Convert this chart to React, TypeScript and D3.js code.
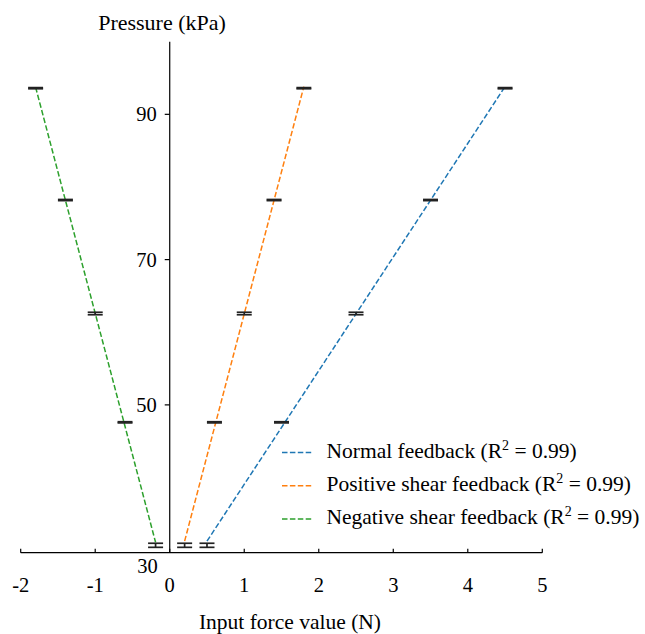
import React from "react";
import * as d3 from "d3";

const pressures = [30.67, 47.6, 62.58, 78.2, 93.6];
const pressureErr = [0.28, 0.08, 0.17, 0.08, 0.08];
const normalForce = [0.5, 1.5, 2.5, 3.5, 4.5];
const positiveForce = [0.2, 0.6, 1.0, 1.4, 1.8];
const negativeForce = [-0.19, -0.6, -1.0, -1.4, -1.8];
const seriesNames = ["Normal feedback", "Positive shear feedback", "Negative shear feedback"];
const seriesColors = ["#1f77b4", "#ff7f0e", "#2ca02c"];
const r2Values = ["0.99", "0.99", "0.99"];
const xTicks = [-2, -1, 0, 1, 2, 3, 4, 5];
const yTicks = [50, 70, 90];

const FONT = "Liberation Serif, Times New Roman, DejaVu Serif, serif";

function fit(xs: number[], ys: number[]) {
  const mx = d3.mean(xs)!;
  const my = d3.mean(ys)!;
  let num = 0, den = 0;
  xs.forEach((x, i) => { num += (x - mx) * (ys[i] - my); den += (x - mx) ** 2; });
  const b = num / den;
  const a = my - b * mx;
  return { a, b };
}

export default function App() {
  const W = 645, H = 634;
  const x = d3.scaleLinear().domain([-2, 5]).range([20.7, 542.3]);
  const y = d3.scaleLinear().domain([29.65, 100]).range([552.7, 41.7]);
  const series = [normalForce, positiveForce, negativeForce];
  const x0 = x(0);
  const yBase = y(29.65);
  const ts = { fontFamily: FONT, fill: "#000" };

  return (
    <svg width={W} height={H} style={{ position: "absolute", left: 0, top: 0, background: "#fff", fontFamily: FONT }}>
      {/* fit lines */}
      {series.map((xs, si) => {
        const { a, b } = fit(xs, pressures);
        const xmin = d3.min(xs)!, xmax = d3.max(xs)!;
        return (
          <line key={"fit" + si}
            x1={x(xmin)} y1={y(a + b * xmin)} x2={x(xmax)} y2={y(a + b * xmax)}
            stroke={seriesColors[si]} strokeWidth={1.5} strokeDasharray="5.5,2.4" />
        );
      })}
      {/* error bars */}
      {series.map((xs, si) => xs.map((xv, i) => {
        const cx = x(xv);
        const yt = y(pressures[i] + pressureErr[i]);
        const yb = y(pressures[i] - pressureErr[i]);
        return (
          <g key={"eb" + si + "-" + i} stroke="#222" strokeWidth={1.7}>
            <line x1={cx} x2={cx} y1={yt} y2={yb} />
            <line x1={cx - 7.5} x2={cx + 7.5} y1={yt} y2={yt} />
            <line x1={cx - 7.5} x2={cx + 7.5} y1={yb} y2={yb} />
          </g>
        );
      }))}
      {/* x axis */}
      <line x1={x(-2)} x2={x(5)} y1={yBase} y2={yBase} stroke="#000" strokeWidth={1.2} />
      {xTicks.map(t => (
        <g key={"xt" + t}>
          <line x1={x(t)} x2={x(t)} y1={yBase} y2={yBase - 4} stroke="#000" strokeWidth={1.2} />
          <text x={x(t)} y={592} textAnchor="middle" fontSize={20.5} style={ts}>{t}</text>
        </g>
      ))}
      {/* y axis */}
      <line x1={x0} x2={x0} y1={y(100)} y2={yBase} stroke="#000" strokeWidth={1.2} />
      {yTicks.map(t => (
        <g key={"yt" + t}>
          <line x1={x0 - 5} x2={x0} y1={y(t)} y2={y(t)} stroke="#000" strokeWidth={1.2} />
          <text x={x0 - 13} y={y(t) + 7} textAnchor="end" fontSize={20.5} style={ts}>{t}</text>
        </g>
      ))}
      <text x={x0 - 12} y={yBase + 20} textAnchor="end" fontSize={20.5} style={ts}>30</text>
      {/* axis titles */}
      <text x={162} y={30} textAnchor="middle" fontSize={22} style={ts}>Pressure (kPa)</text>
      <text x={290} y={629} textAnchor="middle" fontSize={21.5} style={ts}>Input force value (N)</text>
      {/* legend */}
      {seriesNames.map((name, i) => {
        const ly = 452.5 + i * 33.2;
        return (
          <g key={"lg" + i}>
            <line x1={282} x2={313} y1={ly} y2={ly} stroke={seriesColors[i]} strokeWidth={1.5} strokeDasharray="5.5,2.4" />
            <text x={326.5} y={ly + 5.5} fontSize={21.5} style={ts}>
              {name + " (R"}
              <tspan dy={-8.5} fontSize={14}>2</tspan>
              <tspan dy={8.5}>{" = " + r2Values[i] + ")"}</tspan>
            </text>
          </g>
        );
      })}
    </svg>
  );
}
